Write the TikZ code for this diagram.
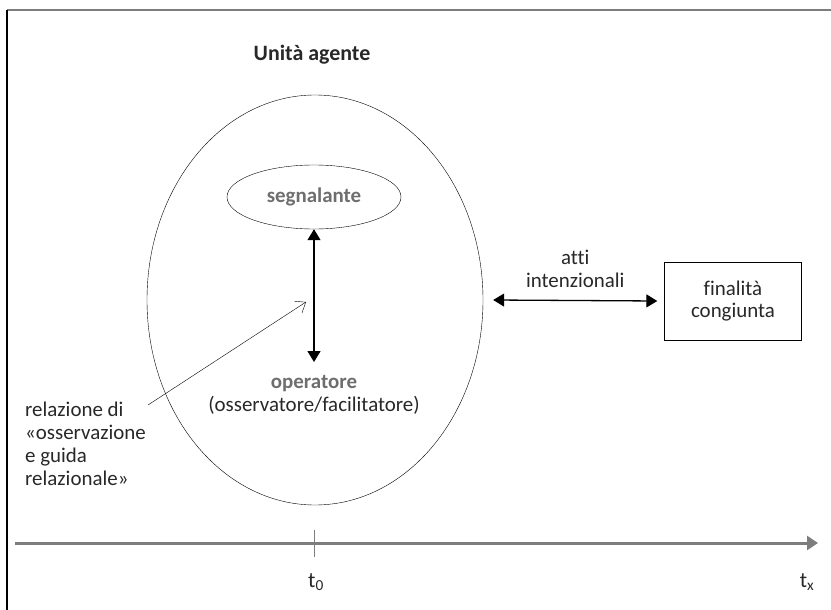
\documentclass[tikz,border=0pt]{standalone}
\usepackage{fontspec}
\setmainfont[Ligatures=NoCommon]{Carlito}
\definecolor{labelgray}{RGB}{110, 110, 110}
\definecolor{axisgray}{RGB}{125, 125, 125}
\definecolor{inkgray}{RGB}{40, 40, 40}
\usetikzlibrary{shapes, arrows.meta, positioning}

\begin{document}
\begin{tikzpicture}[
                x=1bp, y=-1bp,
                every node/.style={align=center, inner sep=0pt, text=inkgray, font=\fontsize{21}{23}\selectfont},
                unit/.style={ellipse, draw, minimum width=336bp, minimum height=410bp},
                role/.style={ellipse, draw, minimum width=174bp, minimum height=64bp},
                goal/.style={rectangle, draw, minimum width=137bp, minimum height=78bp},
                link/.style={{Triangle[length=11bp, width=13bp]}-{Triangle[length=11bp, width=13bp]}, line width=1.3bp},
                axis/.style={axisgray, line width=3bp, -{Triangle[length=11bp, width=14bp]}}
            ]
                \useasboundingbox (0,0) rectangle (831,610);
                % frame (top and left only)
                \draw[axisgray, line width=1.5bp] (7,10) -- (831,10);
                \draw[line width=1.5bp] (7,10) -- (7,610);

                \node[font=\fontsize{22}{24}\selectfont\bfseries] (titolo) at (312,55) {Unità agente};
                \node[unit] (unita) at (315,300) {};
                \node[role, text=labelgray] (segn) at (314,197) {\bfseries segnalante};
                \node[anchor=north] (oper) at (314,375)
                    {{\color{labelgray}\bfseries operatore}\\(osservatore/facilitatore)};
                \draw[link] (segn.south) -- ([yshift=13bp]oper.north);

                \node[anchor=north west, align=left] (rel) at (25,402)
                    {relazione di\\«osservazione\\e guida\\relazionale»};
                \coordinate (origine) at (148,405);
                \coordinate (mira) at (306,302);
                \draw[-{Straight Barb[length=9bp, width=14bp]}] (origine) -- (mira);

                \node[goal] (fine) at (733,301) {finalità\\congiunta};
                \draw[link] ([xshift=10bp]unita.east) -- ([xshift=-7bp]fine.west)
                    node[midway, above=12bp] (atti) {atti\\intenzionali};

                % time axis
                \coordinate (inizio) at (15,543);
                \coordinate (fine asse) at (818,543);
                \draw[axis] (inizio) -- (fine asse);
                \draw[axisgray, line width=1bp] (314,530) -- (314,557);
                \node[font=\fontsize{22}{24}\selectfont] (t0) at (316,582) {t\textsubscript{0}};
                \node[font=\fontsize{22}{24}\selectfont] (tx) at (807,582) {t\textsubscript{x}};
            \end{tikzpicture}
\end{document}
